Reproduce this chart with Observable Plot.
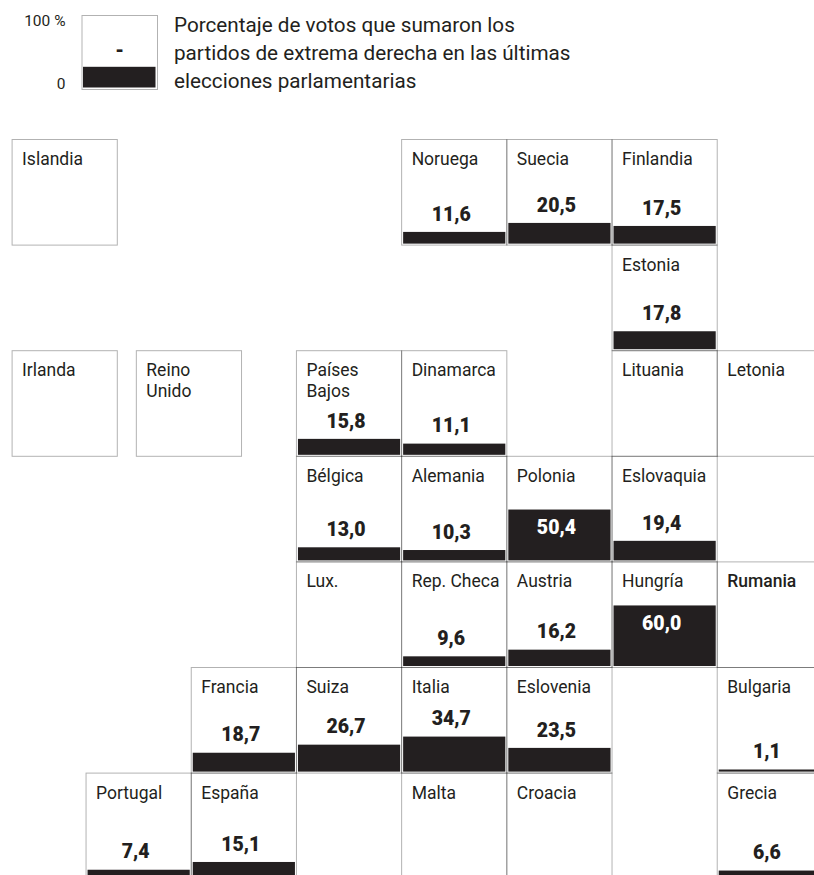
<!DOCTYPE html>
<html lang="es">
<head>
<meta charset="utf-8">
<script src="https://cdn.jsdelivr.net/npm/d3@7"></script>
<script src="https://cdn.jsdelivr.net/npm/@observablehq/plot@0.6"></script>
<style>
html,body{margin:0;padding:0;background:#fff;overflow:hidden;width:814px;height:875px}
#head{position:relative;height:130px;width:814px}
#legend{position:absolute;left:0;top:0}
#title{position:absolute;left:174px;top:11px;font:20.7px/28px Roboto,"Liberation Sans",sans-serif;color:#231f20;white-space:nowrap}
svg{display:block}
</style>
</head>
<body>
<div id="head"><div id="legend"></div><div id="title">Porcentaje de votos que sumaron los<br>partidos de extrema derecha en las últimas<br>elecciones parlamentarias</div></div>
<div id="map"></div>
<script>
const countries = ["Islandia","Noruega","Suecia","Finlandia","Estonia","Irlanda","Reino\nUnido","Países\nBajos","Dinamarca","Lituania","Letonia","Bélgica","Alemania","Polonia","Eslovaquia","Lux.","Rep. Checa","Austria","Hungría","Rumania","Francia","Suiza","Italia","Eslovenia","Bulgaria","Portugal","España","Malta","Croacia","Grecia"];
const columns = [-2.703,1,2,3,3,-2.703,-1.522,0,1,3,4,0,1,2,3,0,1,2,3,4,-1,0,1,2,4,-2,-1,1,2,4];
const rows = [0,0,0,0,1,2,2,2,2,2,2,3,3,3,3,4,4,4,4,4,5,5,5,5,5,6,6,6,6,6];
const votes = [null,11.6,20.5,17.5,17.8,null,null,15.8,11.1,null,null,13.0,10.3,50.4,19.4,null,9.6,16.2,60.0,null,18.7,26.7,34.7,23.5,1.1,7.4,15.1,null,null,6.6];
const legendTicks = ["100 %","0"];
const legendBar = [30];

const INK = "#231f20";
const FONT = "Roboto, 'Liberation Sans', sans-serif";
const fmt = v => v.toFixed(1).replace(".", ",");
const cells = countries.map((name,i)=>({name,col:columns[i],row:rows[i],v:votes[i]}));
const withVote = cells.filter(d=>d.v!=null);
const barBase = d => d.row + 0.986;
const barTop = d => barBase(d) - Math.max(d.v * 0.00956, 0.02);

const map = Plot.plot({
  width:814, height:745, margin:0,
  x:{type:"linear",domain:[-2.818,4.92],range:[0,814],axis:null},
  y:{type:"linear",domain:[0,6.965],range:[9.5,745],axis:null},
  style:{background:"#fff",fontFamily:FONT},
  marks:[
    Plot.rect(cells,{x1:"col",x2:d=>d.col+1,y1:"row",y2:d=>d.row+1,fill:"none",stroke:"#000",strokeOpacity:0.3,strokeWidth:1}),
    Plot.rect(withVote,{x1:"col",x2:d=>d.col+1,y1:barBase,y2:barTop,fill:INK,insetLeft:1.5,insetRight:1.5}),
    Plot.text(cells,{filter:d=>d.name!=="Rumania",x:"col",y:"row",text:"name",dx:9.5,dy:10,textAnchor:"start",lineAnchor:"top",fontSize:17.5,lineHeight:1.2,fill:INK}),
    Plot.text(cells,{filter:d=>d.name==="Rumania",x:"col",y:"row",text:"name",dx:9.5,dy:10,textAnchor:"start",lineAnchor:"top",fontSize:17.5,lineHeight:1.2,fontWeight:500,fill:INK}),
    Plot.text(withVote,{filter:d=>d.v<50,x:d=>d.col+.5,y:barTop,text:d=>fmt(d.v),dx:-3.5,dy:-18,fontSize:19.5,fontWeight:900,fill:INK}),
    Plot.text(withVote,{filter:d=>d.v>=50,x:d=>d.col+.5,y:barTop,text:d=>fmt(d.v),dx:-3.5,dy:18,fontSize:19.5,fontWeight:900,fill:"#fff"})
  ]
});
document.getElementById("map").append(map);

const legend = Plot.plot({
  width:160, height:100, marginLeft:81.5, marginRight:3, marginTop:15, marginBottom:11,
  x:{domain:[0,1],axis:null},
  y:{domain:[0,100],axis:null},
  style:{background:"#fff",fontFamily:FONT},
  marks:[
    Plot.frame({stroke:"#000",strokeOpacity:0.3}),
    Plot.rect(legendBar,{x1:0,x2:1,y1:0,y2:d=>d,fill:INK,insetLeft:1.5,insetRight:1.5,insetBottom:1.5}),
    Plot.text(["-"],{x:.5,y:53,text:d=>d,fontSize:19.5,fontWeight:900,fill:INK}),
    Plot.text(legendTicks,{frameAnchor:"left",y:d=>d==="0"?8:92,text:d=>d,textAnchor:"end",dx:-16.5,fontSize:15.5,fill:INK})
  ]
});
document.getElementById("legend").append(legend);
</script>
</body>
</html>
